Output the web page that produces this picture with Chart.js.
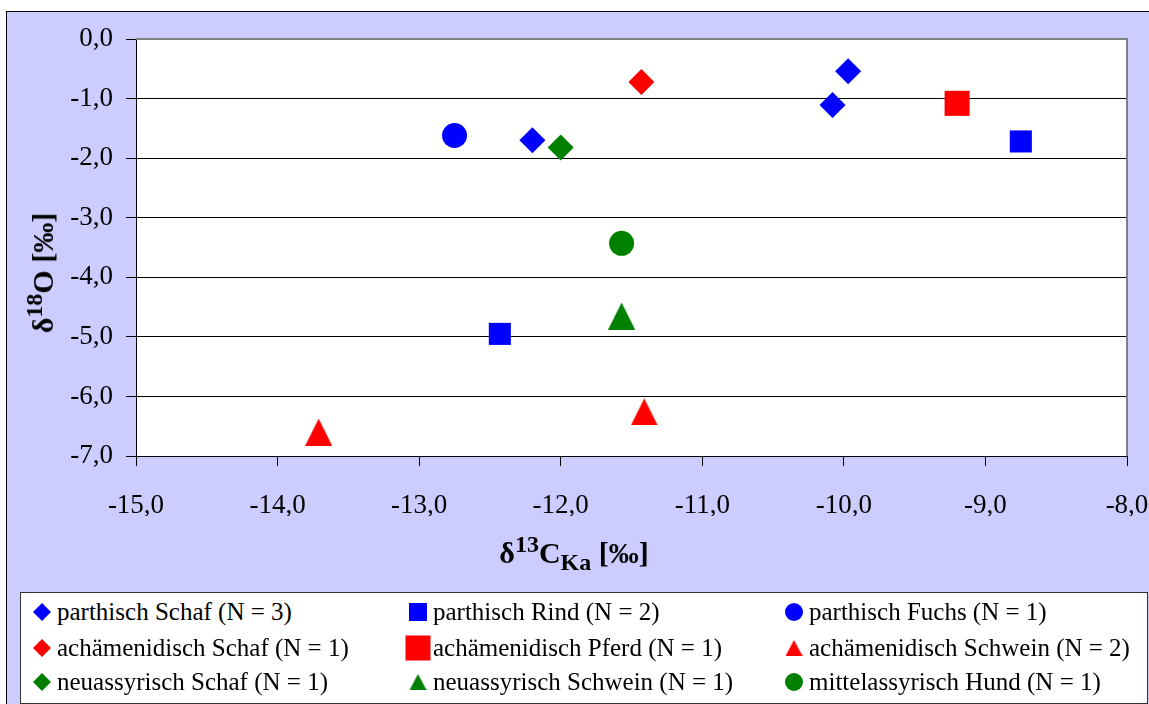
<!DOCTYPE html>
<html>
<head>
<meta charset="utf-8">
<script src="https://cdn.jsdelivr.net/npm/chart.js@4.4.1/dist/chart.umd.min.js"></script>
<style>
    html, body {
        margin: 0;
        padding: 0;
        width: 1149px;
        height: 704px;
        overflow: hidden;
        background: #ffffff;
        font-family: "Liberation Serif", "Noto Serif", "Nimbus Roman", FreeSerif, "DejaVu Serif", serif;
        color: #000;
    }
    #frame {
        position: absolute;
        left: 6px;
        top: 11px;
        width: 1170px;
        height: 720px;
        background: #ccccff;
        border: 1px solid #000;
    }
    #chart {
        position: absolute;
        left: 0;
        top: 0;
    }
    .axis-title {
        position: absolute;
        font-weight: bold;
        font-size: 30px;
        line-height: 1;
        white-space: nowrap;
    }
    .axis-title sup, .axis-title sub {
        font-size: 24px;
        line-height: 0;
    }
    #x-title {
        left: 574px;
        top: 553px;
        transform: translate(-50%, -50%);
    }
    #y-title {
        left: 43px;
        top: 273px;
        transform: translate(-50%, -50%) rotate(-90deg);
    }
    #legend {
        position: absolute;
        left: 20px;
        top: 592px;
        width: 1128px;
        height: 112px;
        box-sizing: border-box;
        background: #fff;
        border: 1px solid #333;
    }
    #legend ul {
        list-style: none;
        margin: 0;
        padding: 0;
        display: grid;
        grid-template-columns: 376px 376px 376px;
        grid-template-rows: 38px 34px 34px;
    }
    #legend li {
        display: flex;
        align-items: center;
        padding-left: 8px;
        font-size: 25px;
        white-space: nowrap;
    }
    #legend canvas {
        flex: none;
        margin-right: 2px;
    }
</style>
</head>
<body>
<div id="frame"></div>
<canvas id="chart" width="1149" height="704"></canvas>
<div id="x-title" class="axis-title">δ<sup>13</sup>C<sub>Ka</sub> [‰]</div>
<div id="y-title" class="axis-title">δ<sup>18</sup>O [‰]</div>
<div id="legend"><ul></ul></div>

<script>
// δ13C (x) and δ18O (y) values per group
const parthSchafX = [-12.20, -10.08, -9.97];
const parthSchafY = [-1.70, -1.11, -0.54];
const parthRindX = [-12.43, -8.75];
const parthRindY = [-4.95, -1.72];
const parthFuchsX = [-12.75];
const parthFuchsY = [-1.62];
const achSchafX = [-11.43];
const achSchafY = [-0.72];
const achPferdX = [-9.20];
const achPferdY = [-1.08];
const achSchweinX = [-13.71, -11.41];
const achSchweinY = [-6.60, -6.26];
const neuSchafX = [-12.00];
const neuSchafY = [-1.82];
const neuSchweinX = [-11.57];
const neuSchweinY = [-4.65];
const mittelHundX = [-11.57];
const mittelHundY = [-3.43];

const groupLabels = [
    'parthisch Schaf (N = 3)',
    'parthisch Rind (N = 2)',
    'parthisch Fuchs (N = 1)',
    'achämenidisch Schaf (N = 1)',
    'achämenidisch Pferd (N = 1)',
    'achämenidisch Schwein (N = 2)',
    'neuassyrisch Schaf (N = 1)',
    'neuassyrisch Schwein (N = 1)',
    'mittelassyrisch Hund (N = 1)',
];

// axis ranges
const xRange = [-15, -8];
const yRange = [-7, 0];

const blue = '#0000ff';
const red = '#ff0000';
const green = '#008000';

const xy = (xs, ys) => xs.map((x, i) => ({x: x, y: ys[i]}));

// triangle marker centred in its own box
function triangleImage(color, w, h) {
    const c = document.createElement('canvas');
    c.width = w;
    c.height = h;
    const g = c.getContext('2d');
    g.fillStyle = color;
    g.beginPath();
    g.moveTo(w / 2, 0);
    g.lineTo(w, h);
    g.lineTo(0, h);
    g.closePath();
    g.fill();
    return c;
}

const series = (label, data, color, pointStyle, radius, legendStyle, legendRadius) => ({
    label: label,
    data: data,
    showLine: false,
    backgroundColor: color,
    borderColor: color,
    borderWidth: 0,
    pointStyle: pointStyle,
    pointRadius: radius,
    pointHoverRadius: radius,
    legendStyle: legendStyle,
    legendRadius: legendRadius,
});

const datasets = [
    series(groupLabels[0], xy(parthSchafX, parthSchafY), blue, 'rectRot', 13, 'rectRot', 9),
    series(groupLabels[1], xy(parthRindX, parthRindY), blue, 'rect', 15.6, 'rect', 12.7),
    series(groupLabels[2], xy(parthFuchsX, parthFuchsY), blue, 'circle', 12.5, 'circle', 9),
    series(groupLabels[3], xy(achSchafX, achSchafY), red, 'rectRot', 13, 'rectRot', 9),
    series(groupLabels[4], xy(achPferdX, achPferdY), red, 'rect', 17.7, 'rect', 17.7),
    series(groupLabels[5], xy(achSchweinX, achSchweinY), red, triangleImage(red, 27, 27), 14, triangleImage(red, 17, 16), 9),
    series(groupLabels[6], xy(neuSchafX, neuSchafY), green, 'rectRot', 13, 'rectRot', 9),
    series(groupLabels[7], xy(neuSchweinX, neuSchweinY), green, triangleImage(green, 27, 27), 14, triangleImage(green, 17, 16), 9),
    series(groupLabels[8], xy(mittelHundX, mittelHundY), green, 'circle', 12.5, 'circle', 9),
];

const serifFamily = '"Liberation Serif", "Noto Serif", "Nimbus Roman", FreeSerif, "DejaVu Serif", serif';
const tickFont = {family: serifFamily, size: 27};
const comma = (v) => Number(v).toFixed(1).replace('.', ',');

Chart.defaults.color = '#000';
Chart.defaults.font.family = serifFamily;

const plotFrame = {
    id: 'plotFrame',
    beforeDraw(c) {
        const a = c.chartArea;
        const ctx = c.ctx;
        ctx.save();
        ctx.fillStyle = '#ffffff';
        ctx.fillRect(a.left, a.top, a.right - a.left, a.bottom - a.top);
        ctx.restore();
    },
    beforeDatasetsDraw(c) {
        const a = c.chartArea;
        const ctx = c.ctx;
        ctx.save();
        ctx.strokeStyle = '#808080';
        ctx.lineWidth = 2;
        ctx.beginPath();
        ctx.moveTo(a.left, a.top);
        ctx.lineTo(a.right, a.top);
        ctx.lineTo(a.right, a.bottom);
        ctx.stroke();
        ctx.restore();
    },
};

const chart = new Chart(document.getElementById('chart'), {
    type: 'scatter',
    data: {
        datasets: datasets,
    },
    options: {
        responsive: false,
        animation: false,
        events: [],
        layout: {
            padding: {top: 39, right: 22, bottom: 188, left: 0},
        },
        scales: {
            x: {
                type: 'linear',
                min: xRange[0],
                max: xRange[1],
                border: {color: '#000', width: 1},
                grid: {
                    drawOnChartArea: false,
                    tickLength: 10,
                    tickColor: '#000',
                },
                ticks: {
                    stepSize: 1,
                    padding: 24,
                    maxRotation: 0,
                    font: tickFont,
                    callback: (v) => comma(v),
                },
                afterFit(scale) {
                    scale.height = 60;
                    scale.paddingLeft = 0;
                    scale.paddingRight = 0;
                },
            },
            y: {
                type: 'linear',
                min: yRange[0],
                max: yRange[1],
                border: {color: '#000', width: 1},
                grid: {
                    color: (ctx) => ctx.tick && ctx.tick.value === 0 ? '#808080' : '#000',
                    tickLength: 10,
                    tickColor: '#000',
                },
                ticks: {
                    stepSize: 1,
                    padding: 13,
                    font: tickFont,
                    callback: (v) => comma(v),
                },
                afterFit(scale) {
                    scale.width = 136;
                    scale.paddingTop = 0;
                    scale.paddingBottom = 0;
                },
            },
        },
        plugins: {
            legend: {display: false},
            tooltip: {enabled: false},
        },
    },
    plugins: [plotFrame],
});

// legend in a 3 x 3 grid, markers drawn with the library's point helper
const legendList = document.querySelector('#legend ul');
chart.data.datasets.forEach((ds) => {
    const li = document.createElement('li');
    const mark = document.createElement('canvas');
    mark.width = 26;
    mark.height = 26;
    const mctx = mark.getContext('2d');
    mctx.fillStyle = ds.backgroundColor;
    Chart.helpers.drawPoint(mctx, {
        pointStyle: ds.legendStyle,
        radius: ds.legendRadius,
        rotation: 0,
        borderWidth: 0,
    }, 13, 13);
    const label = document.createElement('span');
    label.textContent = ds.label;
    li.appendChild(mark);
    li.appendChild(label);
    legendList.appendChild(li);
});
</script>
</body>
</html>
